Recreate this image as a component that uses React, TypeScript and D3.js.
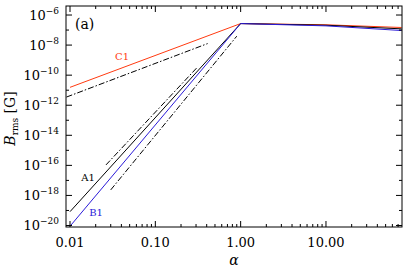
import * as d3 from 'd3';

// Curves: alpha grid and B_rms [G] for each run
const alphaGrid = [0.01, 1, 10, 77];
const c1Values = [1.55e-11, 2.7e-7, 2.24e-7, 1.48e-7];
const a1Values = [8.3e-20, 2.7e-7, 2.1e-7, 1.2e-7];
const b1Values = [8.9e-21, 2.7e-7, 1.9e-7, 9.3e-8];

// Reference slopes (dash-dot)
const refC1Alpha = [0.0091, 0.41];
const refC1Values = [3.5e-12, 1.26e-8];
const refUpperAlpha = [0.0264, 0.305];
const refUpperValues = [1.07e-16, 3.0e-10];
const refLowerAlpha = [0.03, 0.9];
const refLowerValues = [2.34e-18, 3.9e-8];

// Axis ticks
const xMajorTicks = [0.01, 0.1, 1, 10];
const xTickLabels = ['0.01', '0.10', '1.00', '10.00'];
const yExponents = d3.range(-20, -5);

const W = 407, H = 271;
const margin = { left: 66, right: 5, top: 6, bottom: 44 };

const RED = '#ff3a10';
const BLUE = '#2a1ad8';
const FONT = 'DejaVu Serif';

export default function App() {
    const x = d3.scaleLog().domain([Math.pow(10, -2.047), Math.pow(10, 1.891)]).range([margin.left, W - margin.right]);
    const y = d3.scaleLog().domain([Math.pow(10, -20.1), Math.pow(10, -5.4)]).range([H - margin.bottom, margin.top]);
    const [x0, x1] = x.range();
    const [y0, y1] = y.range(); // y0 bottom, y1 top

    const line = d3.line<[number, number]>().x(d => x(d[0])).y(d => y(d[1]));
    const zip = (a: number[], b: number[]) => a.map((v, i) => [v, b[i]] as [number, number]);

    // minor x ticks
    const xMinor: number[] = [];
    [0.01, 0.1, 1, 10].forEach(dec => {
        for (let k = 2; k <= 9; k++) {
            const v = dec * k;
            if (v <= x.domain()[1]) xMinor.push(v);
        }
    });

    const dashDot = '6,2,1.5,2';

    return (
        <svg width={W} height={H} style={{ position: 'absolute', left: 0, top: 0, background: '#fff' }}>
            <defs>
                <clipPath id="plot">
                    <rect x={x0} y={y1} width={x1 - x0} height={y0 - y1} />
                </clipPath>
            </defs>

            <g clipPath="url(#plot)" fill="none" strokeWidth={1}>
                <path d={line(zip(refC1Alpha, refC1Values))!} stroke="#000" strokeDasharray={dashDot} />
                <path d={line(zip(refUpperAlpha, refUpperValues))!} stroke="#000" strokeDasharray={dashDot} />
                <path d={line(zip(refLowerAlpha, refLowerValues))!} stroke="#000" strokeDasharray={dashDot} />
                <path d={line(zip(alphaGrid, c1Values))!} stroke={RED} />
                <path d={line(zip(alphaGrid, a1Values))!} stroke="#000" />
                <path d={line(zip(alphaGrid, b1Values))!} stroke={BLUE} />
            </g>

            {/* frame */}
            <rect x={x0} y={y1} width={x1 - x0} height={y0 - y1} fill="none" stroke="#000" strokeWidth={1} />

            {/* ticks */}
            <g stroke="#000" strokeWidth={1}>
                {xMajorTicks.map(v => (
                    <g key={'xm' + v}>
                        <line x1={x(v)} x2={x(v)} y1={y0} y2={y0 - 6} />
                        <line x1={x(v)} x2={x(v)} y1={y1} y2={y1 + 6} />
                    </g>
                ))}
                {xMinor.map(v => (
                    <g key={'xn' + v}>
                        <line x1={x(v)} x2={x(v)} y1={y0} y2={y0 - 3} />
                        <line x1={x(v)} x2={x(v)} y1={y1} y2={y1 + 3} />
                    </g>
                ))}
                {yExponents.map(e => {
                    const len = e % 2 === 0 ? 6 : 3;
                    const yy = y(Math.pow(10, e));
                    return (
                        <g key={'y' + e}>
                            <line x1={x0} x2={x0 + len} y1={yy} y2={yy} />
                            <line x1={x1} x2={x1 - len} y1={yy} y2={yy} />
                        </g>
                    );
                })}
            </g>

            {/* x tick labels */}
            <g fontFamily={FONT} fontSize={13} textAnchor="middle" fill="#000">
                {xMajorTicks.map((v, i) => (
                    <text key={'xl' + v} x={x(v)} y={y0 + 20}>{xTickLabels[i]}</text>
                ))}
            </g>

            {/* y tick labels */}
            <g fontFamily={FONT} fill="#000">
                {yExponents.filter(e => e % 2 === 0).map(e => {
                    const yy = y(Math.pow(10, e));
                    return (
                        <text key={'yl' + e} x={x0 - 7} y={yy + 5} textAnchor="end" fontSize={13}>
                            10<tspan fontSize={9} dy={-6}>{'\u2212' + Math.abs(e)}</tspan>
                        </text>
                    );
                })}
            </g>

            {/* axis titles */}
            <text x={x((x.domain()[0] * x.domain()[1]) ** 0.5)} y={H - 6} textAnchor="middle"
                fontFamily={FONT} fontStyle="italic" fontSize={14}>α</text>
            <text transform={`translate(15, ${(y0 + y1) / 2 + 2}) rotate(-90)`} textAnchor="middle"
                fontFamily={FONT} fontSize={14}>
                <tspan fontStyle="italic">B</tspan>
                <tspan fontSize={9} dy={3}>rms</tspan>
                <tspan dy={-3}>{'\u00a0[G]'}</tspan>
            </text>

            {/* annotations */}
            <text x={75} y={29} fontFamily={FONT} fontSize={14}>(a)</text>
            <text x={122} y={60} textAnchor="middle" fontFamily={FONT} fontSize={10} fill={RED}>C1</text>
            <text x={88} y={181} textAnchor="middle" fontFamily={FONT} fontSize={10} fill="#000">A1</text>
            <text x={96} y={216} textAnchor="middle" fontFamily={FONT} fontSize={10} fill={BLUE}>B1</text>
        </svg>
    );
}
